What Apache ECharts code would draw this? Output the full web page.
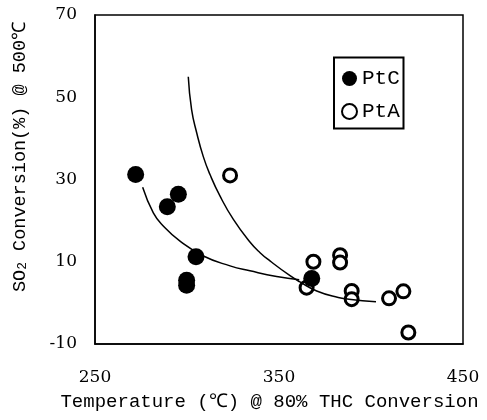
<!DOCTYPE html>
<html>
<head>
<meta charset="utf-8">
<script src="https://cdn.jsdelivr.net/npm/echarts@6/dist/echarts.min.js"></script>
<style>html,body{margin:0;padding:0;background:#fff}#c{width:487px;height:420px}</style>
</head>
<body>
<div id="c"></div>
<script>
// PtC (filled) measurements
const ptcX = [272.1, 289.3, 295.3, 299.8, 299.8, 304.9, 367.8];
const ptcY = [31.2, 23.4, 26.4, 5.5, 4.3, 11.2, 5.9];
// PtA (open) measurements
const ptaX = [323.4, 365.0, 368.7, 383.2, 383.2, 389.5, 389.5, 409.8, 417.6, 420.3];
const ptaY = [31.0, 3.7, 10.0, 11.6, 9.8, 2.9, 0.9, 1.1, 2.8, -7.2];
// steep fitted curve
const fitAX = [300.7, 302.5, 305.3, 308.9, 312.5, 317.9, 325.2, 334.2, 339.7, 345.1, 356.0, 361.4, 370.5, 382.2, 388.0, 402.7];
const fitAY = [55.0, 47.0, 41.3, 35.5, 31.2, 26.0, 20.3, 14.8, 12.2, 10.2, 6.6, 5.1, 2.9, 1.3, 0.9, 0.25];
// shallow fitted curve
const fitBX = [275.9, 281.7, 287.1, 296.2, 308.9, 323.4, 334.2, 348.7, 361.0];
const fitBY = [28.1, 21.9, 18.7, 15.0, 11.4, 9.0, 7.8, 6.4, 5.6];
// axes
const xTicks = [250, 350, 450];
const yTicks = [-10, 10, 30, 50, 70];
const seriesNames = ['PtC', 'PtA'];
const xTitle = 'Temperature (\u2103) @ 80% THC Conversion';

const zip = (a, b) => a.map((v, i) => [v, b[i]]);
const mono = 'Liberation Mono';
const serif = 'DejaVu Serif';

const chart = echarts.init(document.getElementById('c'), null, {renderer: 'canvas'});
chart.setOption({
  animation: false,
  backgroundColor: '#fff',
  grid: {left: 95, right: 24, top: 15, bottom: 76},
  xAxis: {
    type: 'value', min: xTicks[0], max: xTicks[xTicks.length - 1], interval: xTicks[1] - xTicks[0],
    axisLine: {show: true, onZero: false, lineStyle: {color: '#000', width: 1.5}},
    axisTick: {show: false}, splitLine: {show: false},
    axisLabel: {color: '#000', fontFamily: serif, fontSize: 17, margin: 25}
  },
  yAxis: {
    type: 'value', min: yTicks[0], max: yTicks[yTicks.length - 1], interval: yTicks[1] - yTicks[0],
    axisLine: {show: true, onZero: false, lineStyle: {color: '#000', width: 1.5}},
    axisTick: {show: false}, splitLine: {show: false},
    axisLabel: {color: '#000', fontFamily: serif, fontSize: 17, margin: 18}
  },
  legend: {
    data: seriesNames,
    orient: 'vertical', left: 334, top: 59,
    padding: [9, 5, 6, 7],
    itemWidth: 15, itemHeight: 15, itemGap: 12,
    textStyle: {color: '#000', fontFamily: mono, fontSize: 21, lineHeight: 21}
  },
  graphic: [
    {type: 'rect', zlevel: 2, z: 100, shape: {x: 95, y: 15, width: 368, height: 329},
      style: {fill: null, stroke: '#000', lineWidth: 1.5}},
    {type: 'rect', zlevel: 2, z: 100, shape: {x: 334, y: 57.5, width: 69.5, height: 71},
      style: {fill: null, stroke: '#000', lineWidth: 2}},
    {type: 'text', x: 20, y: 157, rotation: Math.PI / 2,
      style: {text: '{a|SO}{s|2}{a| Conversion(%) @ 500\u2103}', align: 'center', verticalAlign: 'middle',
        rich: {
          a: {fontFamily: mono, fontSize: 18.5, fill: '#000', lineHeight: 19},
          s: {fontFamily: mono, fontSize: 13, fill: '#000', lineHeight: 13, verticalAlign: 'bottom'}
        }}},
    {type: 'text', x: 269.5, y: 402,
      style: {text: xTitle, fontFamily: mono, fontSize: 19, fill: '#000', align: 'center', verticalAlign: 'middle'}}
  ],
  series: [
    {name: seriesNames[1], type: 'scatter', z: 2, data: zip(ptaX, ptaY), symbol: 'circle', symbolSize: 13,
      itemStyle: {color: '#fff', borderColor: '#000', borderWidth: 3, opacity: 1}},
    {name: seriesNames[0], type: 'scatter', z: 3, data: zip(ptcX, ptcY), symbol: 'circle', symbolSize: 17,
      itemStyle: {color: '#000', opacity: 1}},
    {name: 'fitA', type: 'line', zlevel: 1, z: 4, clip: false, data: zip(fitAX, fitAY), showSymbol: false, symbol: 'none', smooth: true,
      lineStyle: {color: '#000', width: 1.5}},
    {name: 'fitB', type: 'line', zlevel: 1, z: 4, clip: false, data: zip(fitBX, fitBY), showSymbol: false, symbol: 'none', smooth: true,
      lineStyle: {color: '#000', width: 1.5}}
  ]
});
</script>
</body>
</html>
